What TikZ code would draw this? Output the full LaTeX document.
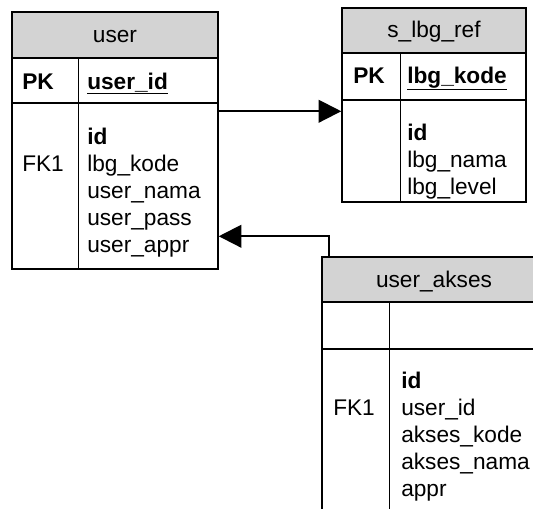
\documentclass[tikz,border=0pt]{standalone}
\usepackage{fontspec}
\setmainfont{Liberation Sans}
\usetikzlibrary{arrows.meta,fit,calc}
\definecolor{hdrgray}{RGB}{211,211,211}
\begin{document}
\begin{tikzpicture}[x=0.75pt,y=-0.75pt,
  box/.style={draw=black, line width=1.1pt, inner sep=0pt},
  hdr/.style={box, fill=hdrgray},
  boxline/.style={draw=black, line width=1.1pt},
  txt/.style={anchor=base west, inner sep=0pt, font=\fontsize{17}{20}\selectfont},
  ttl/.style={txt, anchor=base},
  conn/.style={draw=black, line width=1.5pt, -{Triangle[length=17pt,width=17pt]}}]
\useasboundingbox (0,0) rectangle (533,508);
\clip (0,0) rectangle (533,508);
\fill[white] (0,0) rectangle (533,508);
% user
\node[hdr, fit={(12,12)(218,58)}] (user-h) {};
\node[box, fit={(12,58)(218,103)}] (user-k) {};
\node[box, fit={(12,103)(218,269)}] (user-b) {};
\draw[boxline] ($(user-k.north west)+(67,0)$) -- ($(user-b.south west)+(67,0)$);
\node[ttl] (user-t) at (115,42) {user};
\node[txt] (user-pk) at (22,89) {\bfseries PK};
\node[txt] (user-key) at (87,89) {\bfseries\underline{user\_id}};
\node[txt] (user-fk) at (22,171) {FK1};
\node[txt] (user-c1) at (87,144) {\bfseries id};
\node[txt] (user-c2) at (87,171) {lbg\_kode};
\node[txt] (user-c3) at (87,198) {user\_nama};
\node[txt] (user-c4) at (87,225) {user\_pass};
\node[txt] (user-c5) at (87,252) {user\_appr};
% s_lbg_ref
\node[hdr, fit={(342,8)(526,53)}] (ref-h) {};
\node[box, fit={(342,53)(526,100)}] (ref-k) {};
\node[box, fit={(342,100)(526,202)}] (ref-b) {};
\draw[boxline] ($(ref-k.north west)+(59,0)$) -- ($(ref-b.south west)+(59,0)$);
\node[ttl] (ref-t) at (434,37) {s\_lbg\_ref};
\node[txt] (ref-pk) at (353,83) {\bfseries PK};
\node[txt] (ref-key) at (407,83) {\bfseries\underline{lbg\_kode}};
\node[txt] (ref-c1) at (407,140) {\bfseries id};
\node[txt] (ref-c2) at (407,167) {lbg\_nama};
\node[txt] (ref-c3) at (407,194) {lbg\_level};
% user_akses
\node[hdr, fit={(322,257)(546,302)}] (ua-h) {};
\node[box, fit={(322,302)(546,349)}] (ua-k) {};
\node[box, fit={(322,349)(546,540)}] (ua-b) {};
\draw[boxline] ($(ua-k.north west)+(68,0)$) -- ($(ua-b.south west)+(68,0)$);
\node[ttl] (ua-t) at (434,287) {user\_akses};
\node[txt] (ua-fk) at (333,415) {FK1};
\node[txt] (ua-c1) at (401,388) {\bfseries id};
\node[txt] (ua-c2) at (401,415) {user\_id};
\node[txt] (ua-c3) at (401,442) {akses\_kode};
\node[txt] (ua-c4) at (401,469) {akses\_nama};
\node[txt] (ua-c5) at (401,496) {appr};
% connectors
\coordinate (a1) at ($(ref-b.north west)+(0,12)$);
\draw[conn] (user-b.east |- a1) -- (a1);
\coordinate (a2) at ($(ua-h.north west)+(8,0)$);
\coordinate (a2t) at ($(user-b.north east)+(0,134)$);
\draw[conn] (a2) |- (a2t);
\end{tikzpicture}
\end{document}
